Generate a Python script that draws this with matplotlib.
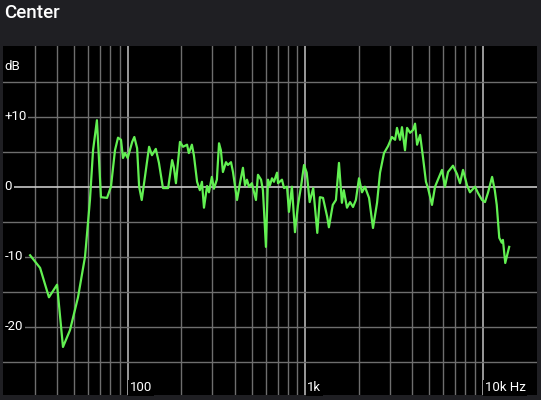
import matplotlib
matplotlib.use("Agg")
import matplotlib.pyplot as plt
import matplotlib.transforms as mtransforms

# Frequency response of the "Center" channel
freq_hz = [28.2, 32.1, 36, 40, 43.2, 47.3, 52.5, 57.5, 61.3, 63.8,
           67.1, 70.7, 76.5, 80.5, 84.8, 88.2, 91.7, 94.1, 96.6, 100,
           106, 109, 113, 116, 120, 125, 132, 137, 144, 150,
           158, 169, 178, 182, 187, 197, 205, 216, 221, 230,
           236, 246, 255, 262, 269, 280, 287, 298, 306, 318,
           327, 335, 344, 358, 367, 382, 392, 413, 429, 446,
           458, 470, 482, 501, 508, 528, 542, 564, 578, 601,
           617, 633, 650, 667, 694, 703, 740, 760, 790, 810,
           842, 876, 911, 947, 985, 1020, 1060, 1110, 1170, 1210,
           1260, 1330, 1360, 1430, 1490, 1550, 1610, 1650, 1720, 1790,
           1860, 1930, 2010, 2090, 2170, 2290, 2410, 2540, 2640, 2780,
           2930, 3080, 3210, 3290, 3420, 3510, 3650, 3750, 3900, 4050,
           4160, 4270, 4440, 4610, 4790, 4920, 5180, 5390, 5600, 5900,
           6130, 6380, 6800, 7170, 7450, 7750, 8160, 8480, 9050, 9410,
           9910, 10300, 10700, 11300, 11700, 12000, 12400, 12800, 13000, 13400,
           14100]
level_db = [-9.8, -11.6, -15.8, -14, -22.9, -20.5, -15.8, -10, -1.9, 5.2,
            9.5, -1.5, -1.6, 0, 5.2, 7, 6.7, 4.1, 4.8, 4.1,
            6.4, 7.1, 5.5, 0, -1.9, 1.4, 5.7, 4.5, 5.4, 3.4,
            -0.2, -0.2, 3.8, 2.8, 0.5, 6.4, 5.7, 6, 4.8, 6,
            4.5, 0.7, -0.5, 0.7, -3, 0.1, -0.8, 1.4, -0.3, 1,
            6.2, 5.2, 2.1, 3.5, 3.1, 3.5, 2.1, -1.9, 0.5, 2.7,
            0.2, 1, 0, 0.5, -0.2, -1.9, 1.7, 1, -0.5, -8.6,
            1, 0.2, 1.2, 0.7, 2, 0.5, 1, -0.2, 0, -3.6,
            0, -6.5, -2.6, 0, 3.1, 2, -2.2, -0.2, -6.6, -1.5,
            -1.6, -4.3, -5.8, -2.6, -1.9, 3.4, -2.3, -0.5, -3, -2.2,
            -2.9, -1.9, 1.2, -0.8, 0, -1.6, -5.9, -2.3, 2, 4.8,
            5.8, 7.1, 6.7, 8.4, 6.7, 8.5, 5.2, 8.4, 7.7, 8.1,
            9, 6, 7.4, 4.2, 0.7, -0.2, -2.6, 0, 1, 2.4,
            0, 2.1, 3, 1.8, 0.5, 2.4, 0.2, -0.8, 0, -0.9,
            -1.9, -2.2, -0.9, 1.4, -0.5, -2.6, -7.3, -8, -7.6, -10.9,
            -8.6]

# grid / label positions
decade_ticks = [100, 1000, 10000]
decade_labels = ["100", "1k", "10k Hz"]
minor_ticks = [30, 40, 50, 60, 70, 80, 90,
               200, 300, 400, 500, 600, 700, 800, 900,
               2000, 3000, 4000, 5000, 6000, 7000, 8000, 9000]
db_grid = [-25, -20, -15, -10, -5, 5, 10, 15]
db_labels = {10: "+10", 0: "0", -10: "-10", -20: "-20"}

plt.rcParams['font.family'] = ['Roboto', 'DejaVu Sans']

fig = plt.figure(figsize=(5.41, 4.00), dpi=100, facecolor='#1f1f23')
ax = fig.add_axes([3 / 541, 5 / 400, 534 / 541, 349 / 400])
ax.set_facecolor('black')

ax.set_xscale('log')
ax.set_xlim(19.84, 20230)
ax.set_ylim(-29.76, 20.1)

# grid lines
for f in minor_ticks:
    ax.axvline(f, color='#6e6e6e', linewidth=1.0, zorder=1)
for f in decade_ticks:
    ax.axvline(f, color='#b4b4b4', linewidth=1.2, zorder=1)
for d in db_grid:
    ax.axhline(d, color='#6e6e6e', linewidth=1.0, zorder=1)
ax.axhline(0, color='#c8c8c8', linewidth=1.2, zorder=1)

ax.plot(freq_hz, level_db, color='#62f052', linewidth=1.6, zorder=3,
        solid_joinstyle='round')

ax.set_xticks([])
ax.set_yticks([])
ax.minorticks_off()
for s in ax.spines.values():
    s.set_visible(False)

label_kw = dict(color='white', fontsize=9.5, zorder=4,
                bbox=dict(facecolor='black', edgecolor='none', pad=1.0))

trans_y = mtransforms.blended_transform_factory(ax.transAxes, ax.transData)
for d, lab in db_labels.items():
    ax.text(0.003, d, lab, transform=trans_y, ha='left', va='center', **label_kw)
ax.text(0.003, 17.1, "dB", transform=trans_y, ha='left', va='center', **label_kw)

trans_x = mtransforms.blended_transform_factory(ax.transData, ax.transAxes)
for f, lab in zip(decade_ticks, decade_labels):
    ax.annotate(lab, xy=(f, 0), xycoords=trans_x, xytext=(1.5, 0.5),
                textcoords='offset points', ha='left', va='bottom', **label_kw)

fig.text(4 / 541, 1 - 13 / 400, "Center", color='white', fontsize=13.5,
         fontweight='medium', ha='left', va='center')

fig.savefig("out.png", dpi=100, facecolor=fig.get_facecolor())
